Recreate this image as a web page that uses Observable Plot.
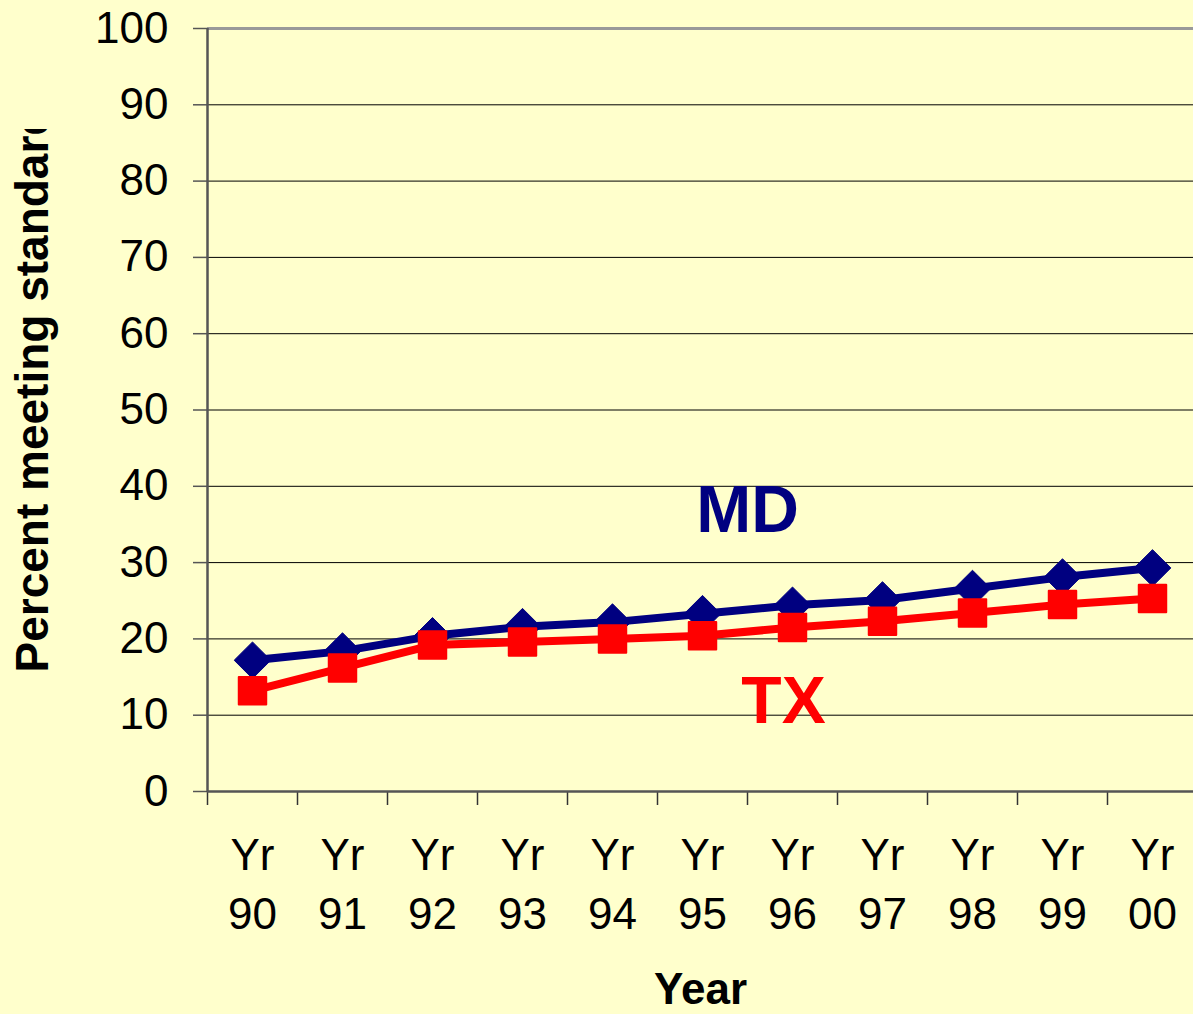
<!DOCTYPE html>
<html><head><meta charset="utf-8">
<script src="https://cdn.jsdelivr.net/npm/d3@7"></script>
<script src="https://cdn.jsdelivr.net/npm/@observablehq/plot@0.6"></script>
<style>
html,body{margin:0;padding:0;background:#FFFFCC;}
#chart{width:1193px;height:1014px;overflow:hidden;}
</style></head><body><div id="chart"></div>
<script>
// ---- data ----
const years = ["90","91","92","93","94","95","96","97","98","99","00"];
const tickLabels = years.map(y => "Yr\n" + y);
const mdValues = [17.2, 18.4, 20.4, 21.6, 22.2, 23.3, 24.4, 25.1, 26.6, 28.1, 29.3];
const txValues = [13.2, 16.2, 19.2, 19.6, 20.0, 20.4, 21.5, 22.3, 23.4, 24.5, 25.3];
const yTicks = [0, 10, 20, 30, 40, 50, 60, 70, 80, 90, 100];
const seriesNames = ["MD", "TX"];
const seriesColors = ["#000080", "#FF0000"];
const seriesSymbols = ["diamond2", "square"];
const labelIndex = [5.5, 5.9];   // label anchor, in category units
const labelValue = [36.8, 11.7]; // label anchor, in percent units
const xTitle = "Year";
const yTitle = "Percent meeting standard";

// ---- build ----
const idx = years.map((_, i) => i);
const md = idx.map(i => ({i, v: mdValues[i]}));
const tx = idx.map(i => ({i, v: txValues[i]}));
const boundaries = d3.range(years.length + 1).map(k => k - 0.5);
const labels = seriesNames.map((s, k) => ({s, i: labelIndex[k], v: labelValue[k], c: seriesColors[k]}));

const chart = Plot.plot({
  width: 1193,
  height: 1014,
  marginTop: 28,
  marginBottom: 223,
  marginLeft: 207,
  marginRight: 0,
  style: {fontFamily: "'Liberation Sans', Arial, sans-serif", background: "#FFFFCC", color: "#000", overflow: "visible"},
  x: {type: "linear", domain: [-0.5, years.length - 0.5], range: [207, 1197]},
  y: {domain: [0, 100], range: [791, 28]},
  marks: [
    Plot.gridY(yTicks.filter(t => t > 0 && t < 100), {stroke: "#000", strokeOpacity: 1, strokeWidth: 1}),
    Plot.ruleY([100], {stroke: "#999", strokeWidth: 3}),
    Plot.axisY({ticks: yTicks, tickSize: 14, tickPadding: 25, fontSize: 44, stroke: "#555", strokeWidth: 1.5, label: null, tickFormat: d => String(d)}),
    Plot.axisX({ticks: boundaries, tickSize: 14, tickFormat: () => "", stroke: "#333", strokeWidth: 1.5, label: null}),
    Plot.axisX({ticks: idx, tickSize: 0, tickPadding: 37, tickFormat: i => tickLabels[i], fontSize: 44, lineHeight: 1.34, label: null}),
    Plot.ruleX([-0.5], {stroke: "#555", strokeWidth: 2.5}),
    Plot.ruleY([0], {stroke: "#555", strokeWidth: 2.5}),
    Plot.line(md, {x: "i", y: "v", stroke: seriesColors[0], strokeWidth: 8}),
    Plot.dot(md, {x: "i", y: "v", symbol: seriesSymbols[0], r: 16.5, fill: seriesColors[0], stroke: seriesColors[0], strokeWidth: 1}),
    Plot.line(tx, {x: "i", y: "v", stroke: seriesColors[1], strokeWidth: 8}),
    Plot.dot(tx, {x: "i", y: "v", symbol: seriesSymbols[1], r: 15.5, fill: seriesColors[1], stroke: seriesColors[1], strokeWidth: 2, strokeLinejoin: "round"}),
    Plot.text(labels, {x: "i", y: "v", text: "s", fill: "c", fontSize: 66, fontWeight: "bold"}),
    Plot.text([xTitle], {frameAnchor: "bottom", dy: 212, fontSize: 44, fontWeight: "bold"}),
    Plot.text([yTitle], {frameAnchor: "bottom-left", dx: -160, dy: -119, rotate: -90, textAnchor: "start", fontSize: 46, fontWeight: "bold"})
  ]
});

document.getElementById("chart").appendChild(chart);

// clip the y title as in the reference
const svg = d3.select(chart);
const defs = svg.append("defs");
defs.append("clipPath").attr("id", "yclip").attr("clipPathUnits", "userSpaceOnUse")
  .append("rect").attr("x", 0).attr("y", 129).attr("width", 200).attr("height", 700);
const ytext = svg.selectAll("text").filter(function() { return this.textContent === yTitle; });
if (!ytext.empty()) {
  const g = ytext.node().parentNode;
  const wrap = svg.append("g").attr("clip-path", "url(#yclip)");
  wrap.node().appendChild(g);
}
</script></body></html>
